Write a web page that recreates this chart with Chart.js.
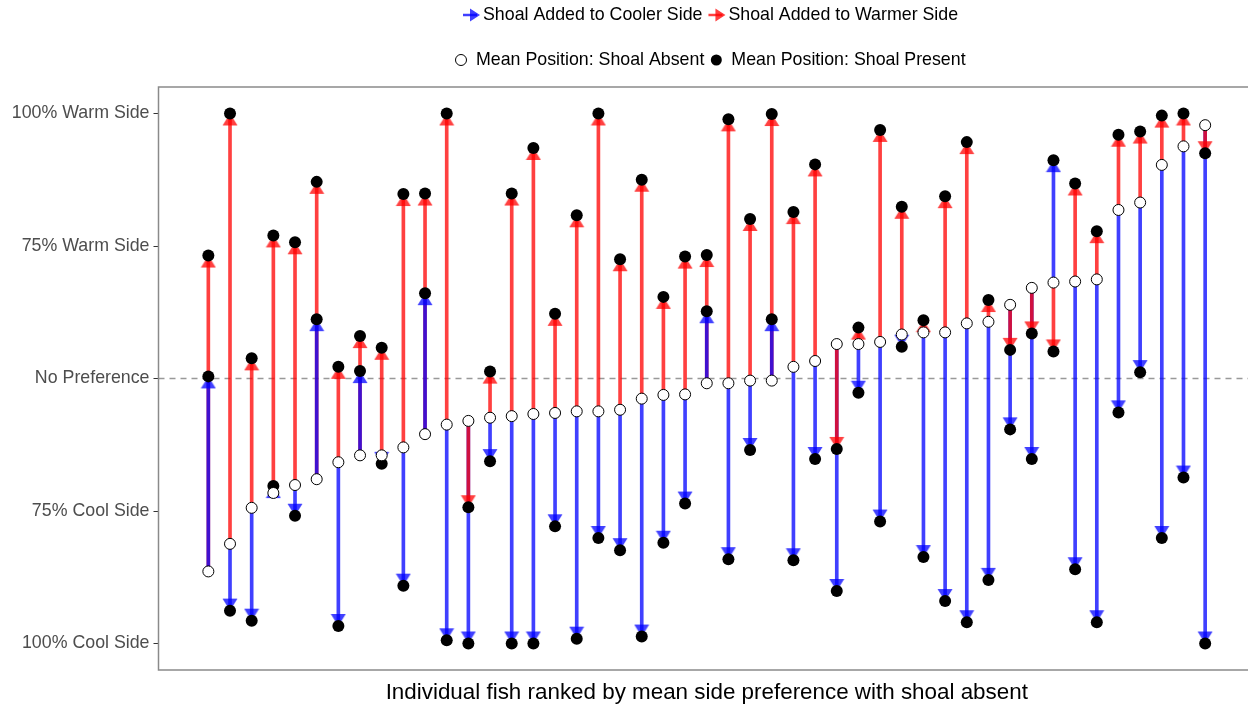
<!DOCTYPE html>
<html>
<head>
<meta charset="utf-8">
<script src="https://cdn.jsdelivr.net/npm/chart.js@4.4.1/dist/chart.umd.min.js"></script>
<style>
  html, body { margin: 0; padding: 0; background: #fff; overflow: hidden; }
  #wrap { width: 1262px; height: 713px; }
</style>
</head>
<body>
<div id="wrap"><canvas id="fishChart" width="1262" height="713"></canvas></div>
<script>
// share of time spent on the warm side (0 = 100% cool, 1 = 100% warm)
const fishRank = Array.from({ length: 47 }, (_, i) => i + 1);

const shoalAbsent = [0.136, 0.188, 0.256, 0.284, 0.299, 0.310, 0.342, 0.355, 0.355, 0.370,
  0.395, 0.413, 0.420, 0.426, 0.429, 0.433, 0.435, 0.438, 0.438, 0.441,
  0.462, 0.469, 0.470, 0.491, 0.491, 0.496, 0.496, 0.522, 0.533, 0.565,
  0.565, 0.569, 0.583, 0.587, 0.587, 0.604, 0.607, 0.639, 0.671, 0.681,
  0.683, 0.687, 0.818, 0.832, 0.903, 0.938, 0.978];

const shoalCooler = [0.504, 0.062, 0.043, 0.297, 0.241, 0.612, 0.033, 0.514, 0.339, 0.109,
  0.661, 0.006, 0.000, 0.344, 0.000, 0.000, 0.221, 0.009, 0.199, 0.176,
  0.013, 0.190, 0.264, 0.627, 0.159, 0.365, 0.612, 0.157, 0.348, 0.099,
  0.473, 0.230, 0.560, 0.163, 0.080, 0.040, 0.120, 0.404, 0.348, 0.912,
  0.140, 0.040, 0.436, 0.512, 0.199, 0.313, 0.000];

const shoalWarmer = [0.732, 1.000, 0.538, 0.770, 0.757, 0.871, 0.522, 0.580, 0.558, 0.848,
  0.849, 1.000, 0.257, 0.513, 0.849, 0.935, 0.622, 0.808, 1.000, 0.725,
  0.875, 0.654, 0.730, 0.733, 0.989, 0.801, 0.999, 0.814, 0.904, 0.367,
  0.596, 0.969, 0.824, 0.610, 0.844, 0.946, 0.648, 0.554, 0.585, 0.551,
  0.868, 0.778, 0.960, 0.966, 0.996, 1.000, 0.925];

const yTickValues = [0, 0.25, 0.5, 0.75, 1];
const yTickLabels = ['100% Cool Side', '75% Cool Side', 'No Preference', '75% Warm Side', '100% Warm Side'];
const noPreference = 0.5;
const xTitle = 'Individual fish ranked by mean side preference with shoal absent';

const FONT = "'Liberation Sans', Arial, sans-serif";
const BLUE = 'rgba(0, 0, 255, 0.75)';
const RED = 'rgba(255, 0, 0, 0.75)';

// the shorter of the two arrows of a fish sits on top
const longSeg = [], longCol = [], shortSeg = [], shortCol = [];
fishRank.forEach((f, i) => {
  const cool = { x: f, y: [shoalAbsent[i], shoalCooler[i]] };
  const warm = { x: f, y: [shoalAbsent[i], shoalWarmer[i]] };
  const coolLen = Math.abs(shoalCooler[i] - shoalAbsent[i]);
  const warmLen = Math.abs(shoalWarmer[i] - shoalAbsent[i]);
  if (coolLen >= warmLen) {
    longSeg.push(cool); longCol.push(BLUE); shortSeg.push(warm); shortCol.push(RED);
  } else {
    longSeg.push(warm); longCol.push(RED); shortSeg.push(cool); shortCol.push(BLUE);
  }
});

function arrowHead(color) {
  const c = document.createElement('canvas');
  c.width = 16; c.height = 26;
  const g = c.getContext('2d');
  g.fillStyle = color;
  g.beginPath();
  g.moveTo(8, 13); g.lineTo(0.5, 25); g.lineTo(15.5, 25);
  g.closePath(); g.fill();
  return c;
}
const blueHead = arrowHead(BLUE);
const redHead = arrowHead(RED);

const coolHeads = fishRank.map((f, i) => ({ x: f, y: shoalCooler[i] }));
const warmHeads = fishRank.map((f, i) => ({ x: f, y: shoalWarmer[i] }));
const coolRot = fishRank.map((f, i) => shoalCooler[i] >= shoalAbsent[i] ? 0 : 180);
const warmRot = fishRank.map((f, i) => shoalWarmer[i] >= shoalAbsent[i] ? 0 : 180);

const presentPts = coolHeads.concat(warmHeads);
const absentPts = fishRank.map((f, i) => ({ x: f, y: shoalAbsent[i] }));

const panelDecor = {
  id: 'panelDecor',
  beforeDatasetsDraw(chart) {
    const { ctx, chartArea: a, scales: { y } } = chart;
    const py = y.getPixelForValue(noPreference);
    ctx.save();
    ctx.strokeStyle = '#999';
    ctx.lineWidth = 1.5;
    ctx.setLineDash([6, 5]);
    ctx.beginPath();
    ctx.moveTo(a.left, py); ctx.lineTo(a.right, py);
    ctx.stroke();
    ctx.restore();
  },
  afterDraw(chart) {
    const { ctx, chartArea: a } = chart;
    ctx.save();
    ctx.strokeStyle = '#8a8a8a';
    ctx.lineWidth = 1.5;
    ctx.strokeRect(a.left, a.top, a.right - a.left, a.bottom - a.top);
    ctx.restore();
  }
};

const legendRows = {
  id: 'legendRows',
  afterDraw(chart) {
    const ctx = chart.ctx;
    ctx.save();
    ctx.font = '17.8px ' + FONT;
    ctx.textBaseline = 'middle';
    ctx.fillStyle = '#000';

    const arrowIcon = (x, y, color) => {
      ctx.strokeStyle = color; ctx.fillStyle = color; ctx.lineWidth = 2.5;
      ctx.beginPath(); ctx.moveTo(x, y); ctx.lineTo(x + 14, y); ctx.stroke();
      ctx.beginPath(); ctx.moveTo(x + 17, y); ctx.lineTo(x + 7, y - 6.5); ctx.lineTo(x + 7, y + 6.5);
      ctx.closePath(); ctx.fill();
    };

    let x = 463, y = 15;
    const row1 = [['Shoal Added to Cooler Side', BLUE], ['Shoal Added to Warmer Side', RED]];
    row1.forEach(([label, col]) => {
      arrowIcon(x, y, col);
      ctx.fillStyle = '#000';
      ctx.fillText(label, x + 20, y);
      x += 20 + ctx.measureText(label).width + 6;
    });

    x = 461; y = 60;
    const row2 = [['Mean Position: Shoal Absent', false], ['Mean Position: Shoal Present', true]];
    row2.forEach(([label, filled]) => {
      ctx.beginPath(); ctx.arc(x, y, 5.5, 0, Math.PI * 2);
      if (filled) { ctx.fillStyle = '#000'; ctx.fill(); }
      else { ctx.fillStyle = '#fff'; ctx.fill(); ctx.strokeStyle = '#000'; ctx.lineWidth = 1; ctx.stroke(); }
      ctx.fillStyle = '#000';
      ctx.fillText(label, x + 15, y);
      x += 15 + ctx.measureText(label).width + 12;
    });
    ctx.restore();
  }
};

new Chart(document.getElementById('fishChart'), {
  type: 'bar',
  data: {
    datasets: [
      { type: 'scatter', label: 'absent', data: absentPts, order: 0,
        pointRadius: 5.5, pointBorderWidth: 1, pointBorderColor: '#000', pointBackgroundColor: '#fff' },
      { type: 'scatter', label: 'present', data: presentPts, order: 1,
        pointRadius: 6, pointBorderWidth: 0, pointBackgroundColor: '#000' },
      { type: 'scatter', label: 'cool heads', data: coolHeads, order: 2,
        pointStyle: blueHead, rotation: coolRot },
      { type: 'scatter', label: 'warm heads', data: warmHeads, order: 2,
        pointStyle: redHead, rotation: warmRot },
      { label: 'short', data: shortSeg, backgroundColor: shortCol, order: 3,
        grouped: false, barThickness: 3, borderWidth: 0, borderSkipped: false },
      { label: 'long', data: longSeg, backgroundColor: longCol, order: 4,
        grouped: false, barThickness: 3, borderWidth: 0, borderSkipped: false }
    ]
  },
  options: {
    responsive: false,
    animation: false,
    events: [],
    layout: { padding: { top: 87, right: 7, left: 0, bottom: 0 } },
    scales: {
      x: {
        type: 'linear',
        min: -1.3,
        max: 49.3,
        offset: false,
        ticks: { display: false },
        grid: { display: false },
        border: { display: false },
        title: {
          display: true,
          text: xTitle,
          color: '#000',
          font: { size: 22.4, family: FONT },
          padding: { top: 0, bottom: 6.6 }
        },
        afterFit: s => { s.height = 43; }
      },
      y: {
        min: -0.05,
        max: 1.05,
        afterBuildTicks: s => { s.ticks = yTickValues.map(v => ({ value: v })); },
        afterFit: s => { s.width = 158.5; },
        ticks: {
          autoSkip: false,
          padding: 4,
          color: '#4d4d4d',
          font: { size: 17.8, family: FONT },
          callback: (v, i) => yTickLabels[i]
        },
        grid: { drawOnChartArea: false, drawTicks: true, tickLength: 5, color: '#333' },
        border: { display: false }
      }
    },
    plugins: {
      legend: { display: false },
      tooltip: { enabled: false }
    }
  },
  plugins: [panelDecor, legendRows]
});
</script>
</body>
</html>
